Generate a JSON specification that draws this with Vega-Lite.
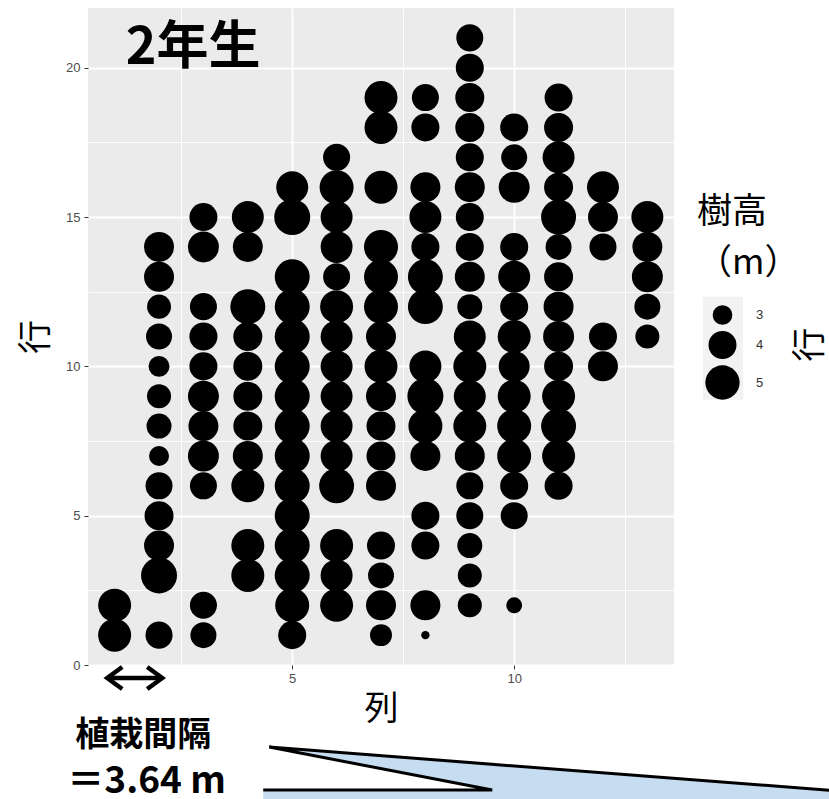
{
  "$schema": "https://vega.github.io/schema/vega-lite/v6.json",
  "width": 586,
  "height": 657,
  "autosize": {"type": "none"},
  "padding": {"left": 88, "top": 8, "right": 155, "bottom": 134},
  "background": "white",
  "config": {"view": {"fill": "#EBEBEB", "stroke": null}},
  "datasets": {
    "trees": [
      {"col": 1, "row": 1, "height": 4.78}, {"col": 1, "row": 2, "height": 4.78},
      {"col": 2, "row": 1, "height": 3.87}, {"col": 2, "row": 3, "height": 5.30}, {"col": 2, "row": 4, "height": 4.30}, {"col": 2, "row": 5, "height": 4.15}, {"col": 2, "row": 6, "height": 3.87}, {"col": 2, "row": 7, "height": 3.03}, {"col": 2, "row": 8, "height": 3.60}, {"col": 2, "row": 9, "height": 3.48}, {"col": 2, "row": 10, "height": 3.13}, {"col": 2, "row": 11, "height": 3.73}, {"col": 2, "row": 12, "height": 3.48}, {"col": 2, "row": 13, "height": 4.30}, {"col": 2, "row": 14, "height": 4.30},
      {"col": 3, "row": 1, "height": 3.73}, {"col": 3, "row": 2, "height": 3.87}, {"col": 3, "row": 6, "height": 3.87}, {"col": 3, "row": 7, "height": 4.45}, {"col": 3, "row": 8, "height": 4.30}, {"col": 3, "row": 9, "height": 4.45}, {"col": 3, "row": 10, "height": 4.01}, {"col": 3, "row": 11, "height": 4.01}, {"col": 3, "row": 12, "height": 3.87}, {"col": 3, "row": 14, "height": 4.45}, {"col": 3, "row": 15, "height": 4.01},
      {"col": 4, "row": 3, "height": 4.78}, {"col": 4, "row": 4, "height": 4.78}, {"col": 4, "row": 6, "height": 4.78}, {"col": 4, "row": 7, "height": 4.30}, {"col": 4, "row": 8, "height": 4.15}, {"col": 4, "row": 9, "height": 4.15}, {"col": 4, "row": 10, "height": 4.15}, {"col": 4, "row": 11, "height": 4.15}, {"col": 4, "row": 12, "height": 5.12}, {"col": 4, "row": 14, "height": 4.30}, {"col": 4, "row": 15, "height": 4.61},
      {"col": 5, "row": 1, "height": 4.01}, {"col": 5, "row": 2, "height": 4.95}, {"col": 5, "row": 3, "height": 5.12}, {"col": 5, "row": 4, "height": 5.12}, {"col": 5, "row": 5, "height": 5.12}, {"col": 5, "row": 6, "height": 5.12}, {"col": 5, "row": 7, "height": 5.12}, {"col": 5, "row": 8, "height": 5.12}, {"col": 5, "row": 9, "height": 5.12}, {"col": 5, "row": 10, "height": 5.12}, {"col": 5, "row": 11, "height": 5.12}, {"col": 5, "row": 12, "height": 5.12}, {"col": 5, "row": 13, "height": 5.12}, {"col": 5, "row": 15, "height": 5.30}, {"col": 5, "row": 16, "height": 4.61},
      {"col": 6, "row": 2, "height": 4.78}, {"col": 6, "row": 3, "height": 4.61}, {"col": 6, "row": 4, "height": 4.78}, {"col": 6, "row": 6, "height": 5.12}, {"col": 6, "row": 7, "height": 4.61}, {"col": 6, "row": 8, "height": 4.61}, {"col": 6, "row": 9, "height": 4.61}, {"col": 6, "row": 10, "height": 4.61}, {"col": 6, "row": 11, "height": 4.61}, {"col": 6, "row": 12, "height": 4.78}, {"col": 6, "row": 13, "height": 3.87}, {"col": 6, "row": 14, "height": 4.61}, {"col": 6, "row": 15, "height": 4.61}, {"col": 6, "row": 16, "height": 4.95}, {"col": 6, "row": 17, "height": 3.87},
      {"col": 7, "row": 1, "height": 3.24}, {"col": 7, "row": 2, "height": 4.30}, {"col": 7, "row": 3, "height": 3.73}, {"col": 7, "row": 4, "height": 4.01}, {"col": 7, "row": 6, "height": 4.30}, {"col": 7, "row": 7, "height": 4.15}, {"col": 7, "row": 8, "height": 4.15}, {"col": 7, "row": 9, "height": 4.30}, {"col": 7, "row": 10, "height": 4.78}, {"col": 7, "row": 11, "height": 4.30}, {"col": 7, "row": 12, "height": 4.95}, {"col": 7, "row": 13, "height": 4.95}, {"col": 7, "row": 14, "height": 4.95}, {"col": 7, "row": 16, "height": 4.78}, {"col": 7, "row": 18, "height": 4.78}, {"col": 7, "row": 19, "height": 4.78},
      {"col": 8, "row": 1, "height": 2.19}, {"col": 8, "row": 2, "height": 4.30}, {"col": 8, "row": 4, "height": 4.01}, {"col": 8, "row": 5, "height": 4.01}, {"col": 8, "row": 7, "height": 4.30}, {"col": 8, "row": 8, "height": 4.95}, {"col": 8, "row": 9, "height": 5.30}, {"col": 8, "row": 10, "height": 4.61}, {"col": 8, "row": 12, "height": 5.12}, {"col": 8, "row": 13, "height": 5.12}, {"col": 8, "row": 14, "height": 4.01}, {"col": 8, "row": 15, "height": 4.61}, {"col": 8, "row": 16, "height": 4.30}, {"col": 8, "row": 18, "height": 4.01}, {"col": 8, "row": 19, "height": 3.87},
      {"col": 9, "row": 2, "height": 3.48}, {"col": 9, "row": 3, "height": 3.48}, {"col": 9, "row": 4, "height": 3.60}, {"col": 9, "row": 5, "height": 3.87}, {"col": 9, "row": 6, "height": 3.87}, {"col": 9, "row": 7, "height": 4.30}, {"col": 9, "row": 8, "height": 4.78}, {"col": 9, "row": 9, "height": 4.61}, {"col": 9, "row": 10, "height": 4.78}, {"col": 9, "row": 11, "height": 4.61}, {"col": 9, "row": 12, "height": 3.60}, {"col": 9, "row": 13, "height": 4.30}, {"col": 9, "row": 14, "height": 4.01}, {"col": 9, "row": 15, "height": 4.01}, {"col": 9, "row": 16, "height": 4.30}, {"col": 9, "row": 17, "height": 4.01}, {"col": 9, "row": 18, "height": 4.15}, {"col": 9, "row": 19, "height": 4.15}, {"col": 9, "row": 20, "height": 4.01}, {"col": 9, "row": 21, "height": 3.87},
      {"col": 10, "row": 2, "height": 2.66}, {"col": 10, "row": 5, "height": 3.87}, {"col": 10, "row": 6, "height": 4.01}, {"col": 10, "row": 7, "height": 4.95}, {"col": 10, "row": 8, "height": 4.95}, {"col": 10, "row": 9, "height": 4.78}, {"col": 10, "row": 10, "height": 4.45}, {"col": 10, "row": 11, "height": 4.78}, {"col": 10, "row": 12, "height": 4.01}, {"col": 10, "row": 13, "height": 4.61}, {"col": 10, "row": 14, "height": 4.01}, {"col": 10, "row": 16, "height": 4.45}, {"col": 10, "row": 17, "height": 3.73}, {"col": 10, "row": 18, "height": 4.01},
      {"col": 11, "row": 6, "height": 4.01}, {"col": 11, "row": 7, "height": 4.78}, {"col": 11, "row": 8, "height": 5.12}, {"col": 11, "row": 9, "height": 4.78}, {"col": 11, "row": 10, "height": 4.15}, {"col": 11, "row": 11, "height": 4.45}, {"col": 11, "row": 12, "height": 4.30}, {"col": 11, "row": 13, "height": 4.15}, {"col": 11, "row": 14, "height": 3.73}, {"col": 11, "row": 15, "height": 5.12}, {"col": 11, "row": 16, "height": 4.15}, {"col": 11, "row": 17, "height": 4.61}, {"col": 11, "row": 18, "height": 4.15}, {"col": 11, "row": 19, "height": 4.01},
      {"col": 12, "row": 10, "height": 4.30}, {"col": 12, "row": 11, "height": 4.01}, {"col": 12, "row": 14, "height": 3.87}, {"col": 12, "row": 15, "height": 4.30}, {"col": 12, "row": 16, "height": 4.61},
      {"col": 13, "row": 11, "height": 3.48}, {"col": 13, "row": 12, "height": 3.73}, {"col": 13, "row": 13, "height": 4.45}, {"col": 13, "row": 14, "height": 4.30}, {"col": 13, "row": 15, "height": 4.61}
    ],
    "calloutBody": [
      {"x": 4.347, "top": -4.188, "bottom": -4.8},
      {"x": 17.4, "top": -4.188, "bottom": -4.8}
    ],
    "calloutPointer": [
      {"x": 4.482, "top": -2.747, "bottom": -2.747},
      {"x": 9.505, "top": -3.321, "bottom": -4.188},
      {"x": 17.095, "top": -4.188, "bottom": -4.188}
    ],
    "calloutOutline": [
      {"k": 1, "x": 4.347, "y": -4.188},
      {"k": 2, "x": 9.505, "y": -4.188},
      {"k": 3, "x": 4.482, "y": -2.747},
      {"k": 4, "x": 17.4, "y": -4.23}
    ],
    "spacingArrow": [
      {"part": "shaft", "k": 1, "x": 0.85, "y": -0.435},
      {"part": "shaft", "k": 2, "x": 2.055, "y": -0.435},
      {"part": "left", "k": 1, "x": 1.171, "y": -0.067},
      {"part": "left", "k": 2, "x": 0.833, "y": -0.435},
      {"part": "left", "k": 3, "x": 1.171, "y": -0.803},
      {"part": "right", "k": 1, "x": 1.734, "y": -0.067},
      {"part": "right", "k": 2, "x": 2.072, "y": -0.435},
      {"part": "right", "k": 3, "x": 1.734, "y": -0.803}
    ]
  },
  "layer": [
    {
      "data": {"name": "trees"},
      "mark": {"type": "circle", "color": "black", "opacity": 1},
      "encoding": {
        "x": {
          "field": "col", "type": "quantitative",
          "scale": {"domain": [0.4, 13.6], "nice": false, "zero": false},
          "axis": {
            "title": "列", "values": [2.5, 5, 7.5, 10, 12.5],
            "labelExpr": "datum.value % 5 === 0 ? datum.label : ''",
            "labelFlush": false, "labelOverlap": false,
            "grid": true, "gridColor": "white",
            "gridWidth": {"condition": {"test": "datum.value % 5 === 0", "value": 1.8}, "value": 0.9},
            "tickSize": 4, "tickColor": "#333333", "tickWidth": 1,
            "tickOpacity": {"condition": {"test": "datum.value % 5 === 0", "value": 1}, "value": 0},
            "domain": false,
            "labelFont": "Liberation Sans", "labelFontSize": 13, "labelColor": "#4D4D4D", "labelPadding": 3,
            "titleFont": "Noto Sans CJK JP", "titleFontSize": 34, "titleFontWeight": "normal", "titleColor": "black", "titlePadding": 7
          }
        },
        "y": {
          "field": "row", "type": "quantitative",
          "scale": {"domain": [0, 22], "nice": false, "zero": false},
          "axis": {
            "title": "行", "values": [0, 2.5, 5, 7.5, 10, 12.5, 15, 17.5, 20],
            "labelExpr": "datum.value % 5 === 0 ? datum.label : ''",
            "labelFlush": false, "labelOverlap": false,
            "grid": true, "gridColor": "white",
            "gridWidth": {"condition": {"test": "datum.value % 5 === 0", "value": 1.8}, "value": 0.9},
            "tickSize": 4, "tickColor": "#333333", "tickWidth": 1,
            "tickOpacity": {"condition": {"test": "datum.value % 5 === 0", "value": 1}, "value": 0},
            "domain": false,
            "labelFont": "Liberation Sans", "labelFontSize": 13, "labelColor": "#4D4D4D", "labelPadding": 4,
            "titleFont": "Noto Sans CJK JP", "titleFontSize": 34, "titleFontWeight": "normal", "titleColor": "black", "titlePadding": 12
          }
        },
        "size": {
          "field": "height", "type": "quantitative",
          "scale": {"domain": [3, 5], "range": [388, 1176], "zero": false},
          "legend": {
            "orient": "none", "legendX": 609, "legendY": 187,
            "title": ["樹高", "（m）"], "values": [3, 4, 5], "format": "d",
            "titleFont": "Noto Sans CJK JP", "titleFontSize": 35, "titleFontWeight": "normal", "titleColor": "black",
            "titleLineHeight": 51, "titlePadding": 24,
            "symbolType": "circle", "symbolFillColor": "black", "symbolStrokeWidth": 0, "symbolOpacity": 1,
            "symbolOffset": 8, "rowPadding": 6, "labelOffset": 16,
            "labelFont": "Liberation Sans", "labelFontSize": 13, "labelColor": "#333333"
          }
        }
      }
    },
    {
      "data": {"name": "calloutBody"},
      "mark": {"type": "area", "color": "#C6DCF0", "opacity": 1, "clip": false, "orient": "vertical"},
      "encoding": {
        "x": {"field": "x", "type": "quantitative"},
        "y": {"field": "top", "type": "quantitative"},
        "y2": {"field": "bottom"}
      }
    },
    {
      "data": {"name": "calloutPointer"},
      "mark": {"type": "area", "color": "#C6DCF0", "opacity": 1, "clip": false, "orient": "vertical"},
      "encoding": {
        "x": {"field": "x", "type": "quantitative"},
        "y": {"field": "top", "type": "quantitative"},
        "y2": {"field": "bottom"}
      }
    },
    {
      "data": {"name": "calloutOutline"},
      "mark": {"type": "line", "color": "black", "strokeWidth": 3, "clip": false, "strokeJoin": "miter"},
      "encoding": {
        "x": {"field": "x", "type": "quantitative"},
        "y": {"field": "y", "type": "quantitative"},
        "order": {"field": "k"}
      }
    },
    {
      "data": {"values": [{"x": 14.257, "x2": 15.158, "y": 12.328, "y2": 8.878}]},
      "mark": {"type": "rect", "color": "#F2F2F2", "clip": false},
      "encoding": {
        "x": {"field": "x", "type": "quantitative"},
        "x2": {"field": "x2"},
        "y": {"field": "y", "type": "quantitative"},
        "y2": {"field": "y2"}
      }
    },
    {
      "data": {"values": [{"x": 2.77, "y": 20.67, "text": "2年生"}]},
      "mark": {"type": "text", "font": "Noto Sans CJK JP", "fontSize": 52, "fontWeight": "bold", "color": "black", "align": "center", "baseline": "middle", "clip": false},
      "encoding": {
        "x": {"field": "x", "type": "quantitative"},
        "y": {"field": "y", "type": "quantitative"},
        "text": {"field": "text"}
      }
    },
    {
      "data": {"values": [{"x": 1.644, "y": -2.38, "text": "植栽間隔"}]},
      "mark": {"type": "text", "font": "Noto Sans CJK JP", "fontSize": 34, "fontWeight": "bold", "color": "black", "align": "center", "baseline": "middle", "clip": false},
      "encoding": {
        "x": {"field": "x", "type": "quantitative"},
        "y": {"field": "y", "type": "quantitative"},
        "text": {"field": "text"}
      }
    },
    {
      "data": {"values": [{"x": 1.72, "y": -3.92, "text": "＝3.64 m"}]},
      "mark": {"type": "text", "font": "Noto Sans CJK JP", "fontSize": 37, "fontWeight": "bold", "color": "black", "align": "center", "baseline": "middle", "clip": false},
      "encoding": {
        "x": {"field": "x", "type": "quantitative"},
        "y": {"field": "y", "type": "quantitative"},
        "text": {"field": "text"}
      }
    },
    {
      "data": {"values": [{"x": 16.69, "y": 10.72, "text": "行"}]},
      "mark": {"type": "text", "font": "Noto Sans CJK JP", "fontSize": 34, "color": "black", "align": "center", "baseline": "middle", "angle": 270, "clip": false},
      "encoding": {
        "x": {"field": "x", "type": "quantitative"},
        "y": {"field": "y", "type": "quantitative"},
        "text": {"field": "text"}
      }
    },
    {
      "data": {"name": "spacingArrow"},
      "mark": {"type": "line", "color": "black", "strokeWidth": 4.5, "clip": false, "strokeJoin": "miter", "strokeCap": "butt"},
      "encoding": {
        "x": {"field": "x", "type": "quantitative"},
        "y": {"field": "y", "type": "quantitative"},
        "detail": {"field": "part"},
        "order": {"field": "k"}
      }
    }
  ]
}
